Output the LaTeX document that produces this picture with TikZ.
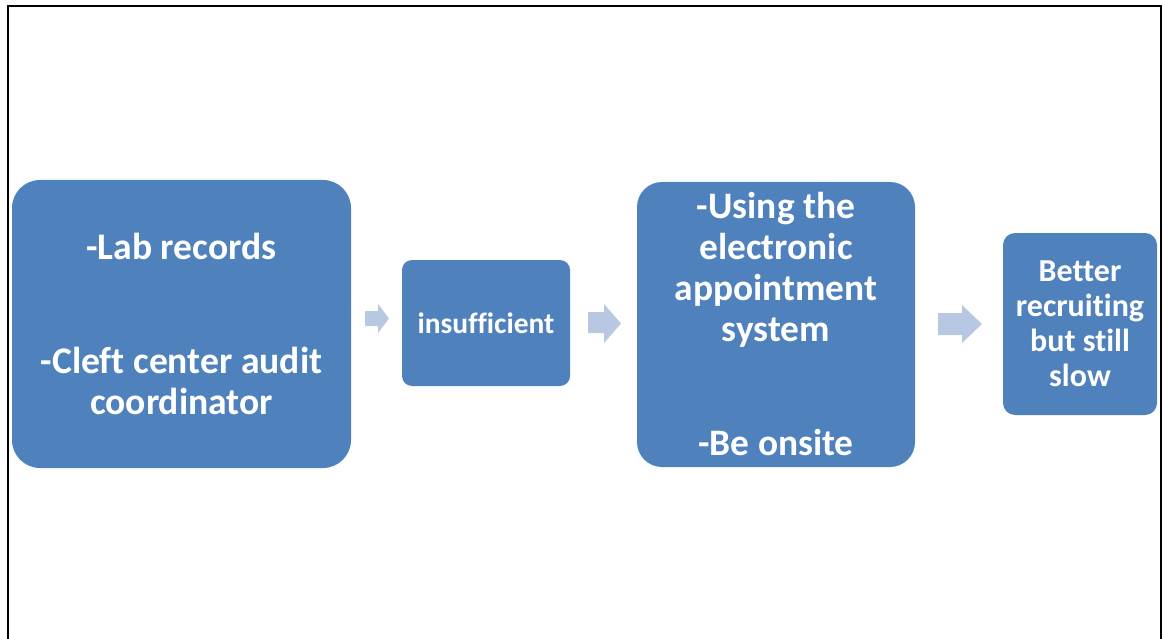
\documentclass[tikz,border=0pt]{standalone}
\usepackage{fontspec}
\setmainfont[Ligatures={NoCommon}]{Carlito}
\definecolor{boxblue}{RGB}{79,129,189}
\definecolor{arrowblue}{RGB}{184,200,226}
\tikzset{
  box/.style={fill=boxblue, draw=none, text=white, align=center, inner sep=0pt, font=\bfseries},
  blockarrow/.style={fill=arrowblue, draw=none},
}
\begin{document}
\begin{tikzpicture}[x=1pt,y=-1pt]
\useasboundingbox (0,0) rectangle (1164,639);
\begin{scope}
\clip (0,0) rectangle (1164,639);
\draw[line width=2pt] (8,6) rectangle (1161,680);
\end{scope}
\node[box, minimum width=339pt, minimum height=288pt, rounded corners=28pt, font=\bfseries\fontsize{37.6}{41}\selectfont] (b1) at (181.5,324) {-Lab records\\[73pt]-Cleft center audit\\coordinator};
\node[box, minimum width=168pt, minimum height=126pt, rounded corners=10pt, font=\bfseries\fontsize{29.5}{34}\selectfont] (b2) at (486,323) {insufficient};
\node[box, minimum width=278pt, minimum height=285pt, rounded corners=25pt, font=\bfseries\fontsize{37.4}{41}\selectfont] (b3) at (776,324.5) {-Using the\\electronic\\appointment\\system\\[73pt]-Be onsite};
\node[box, minimum width=154pt, minimum height=182pt, rounded corners=12pt, font=\bfseries\fontsize{32}{35}\selectfont] (b4) at (1080,324) {Better\\recruiting\\but still\\slow};
\fill[blockarrow] (365,311) -- (378,311) -- (378,304) -- (389,318.5) -- (378,333) -- (378,326) -- (365,326) -- cycle;
\fill[blockarrow] (588,312) -- (604,312) -- (604,304) -- (621,323.5) -- (604,343) -- (604,333) -- (588,333) -- cycle;
\fill[blockarrow] (938,313) -- (962,313) -- (962,305) -- (982,324) -- (962,343) -- (962,335) -- (938,335) -- cycle;
\end{tikzpicture}
\end{document}
